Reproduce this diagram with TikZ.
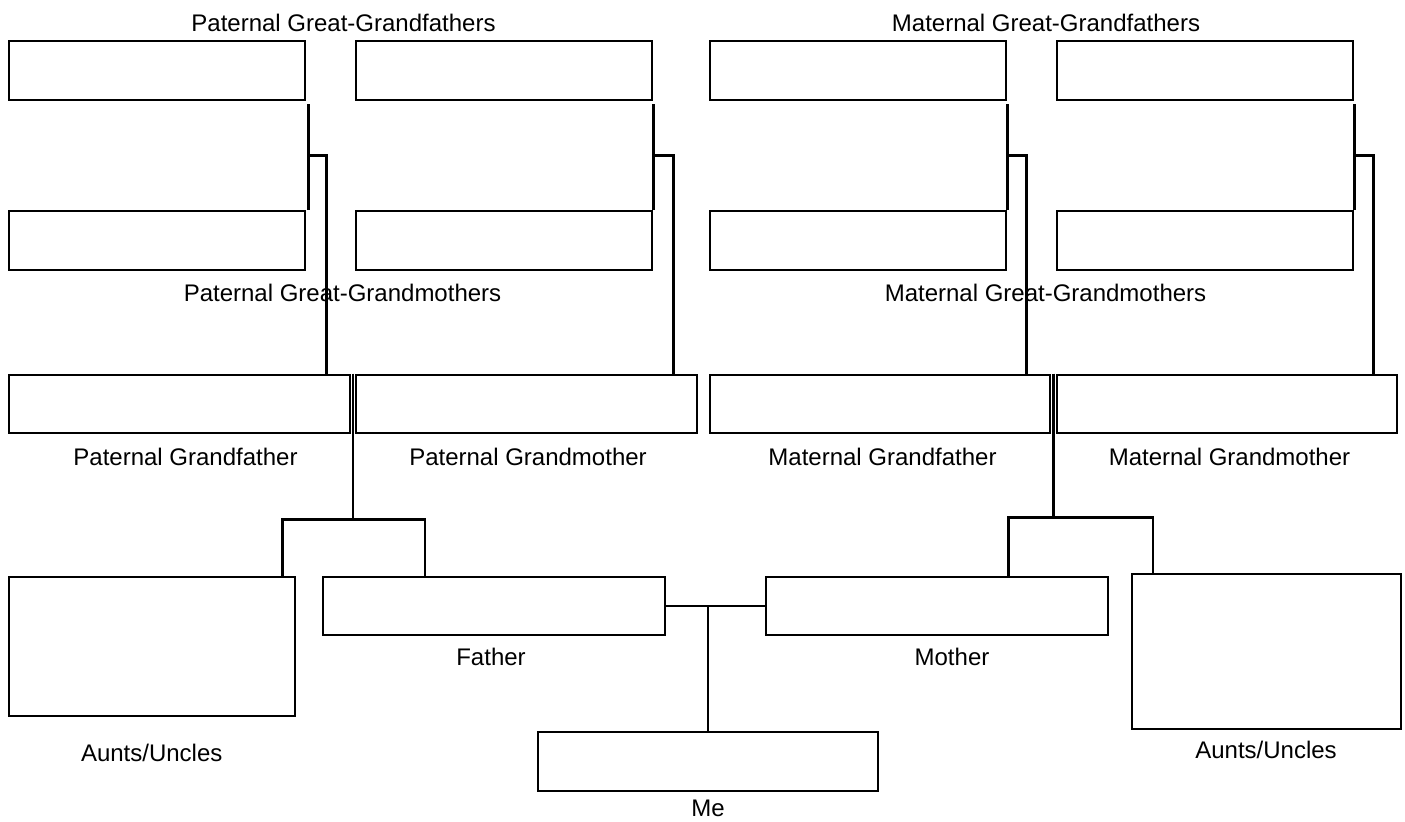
\documentclass[tikz,border=0pt]{standalone}
\usepackage{fontspec}
\setmainfont{Liberation Sans}
\usetikzlibrary{calc}

\begin{document}
\begin{tikzpicture}[x=0.5pt, y=-0.5pt, line width=1.25pt,
  cell/.style 2 args={draw, inner sep=0pt, minimum width=#1, minimum height=#2},
  lbl/.style={anchor=base, font=\large}]
\useasboundingbox (0,0) rectangle (1405,822);
  % great-grandparents
  \node[cell={148pt}{29.5pt}] (ggf1) at (157,70.5) {};
  \node[cell={148pt}{29.5pt}] (ggf2) at (504,70.5) {};
  \node[cell={148pt}{29.5pt}] (ggf3) at (858,70.5) {};
  \node[cell={148pt}{29.5pt}] (ggf4) at (1205,70.5) {};
  \node[cell={148pt}{29.5pt}] (ggm1) at (157,240.5) {};
  \node[cell={148pt}{29.5pt}] (ggm2) at (504,240.5) {};
  \node[cell={148pt}{29.5pt}] (ggm3) at (858,240.5) {};
  \node[cell={148pt}{29.5pt}] (ggm4) at (1205,240.5) {};
  % grandparents
  \node[cell={170.5pt}{29pt}] (pgf) at (179.5,404) {};
  \node[cell={170.5pt}{29pt}] (pgm) at (526.5,404) {};
  \node[cell={170pt}{29pt}] (mgf) at (880,404) {};
  \node[cell={170pt}{29pt}] (mgm) at (1227,404) {};
  % parents, aunts, me
  \node[cell={143pt}{69.5pt}] (auntp) at (152,646.5) {};
  \node[cell={171pt}{29pt}] (father) at (494,606) {};
  \node[cell={171pt}{29pt}] (mother) at (937,606) {};
  \node[cell={134.5pt}{77.5pt}] (auntm) at (1266.5,651.5) {};
  \node[cell={170pt}{29.5pt}] (me) at (708,761.5) {};

  \node[lbl] (t1) at (343.5,31.7) {Paternal Great-Grandfathers};
  \node[lbl] (t2) at (1046,31.7) {Maternal Great-Grandfathers};
  \node[lbl] (t3) at (342.5,302) {Paternal Great-Grandmothers};
  \node[lbl] (t4) at (1045.5,302) {Maternal Great-Grandmothers};
  \node[lbl] (l1) at (185.5,466) {Paternal Grandfather};
  \node[lbl] (l2) at (528,466) {Paternal Grandmother};
  \node[lbl] (l3) at (882.5,466) {Maternal Grandfather};
  \node[lbl] (l4) at (1229.5,466) {Maternal Grandmother};
  \node[lbl] (l5) at (491,666) {Father};
  \node[lbl] (l6) at (952,666) {Mother};
  \node[lbl] (l7) at (151.7,761.7) {Aunts/Uncles};
  \node[lbl] (l8) at (1266,759) {Aunts/Uncles};
  \node[lbl] (l9) at (708,817) {Me};

  \foreach \k/\g/\dx in {1/pgf/1pt, 2/pgm/0pt, 3/mgf/0pt, 4/mgm/0pt} {
    \coordinate (j\k) at ($(ggf\k.south east)!.5!(ggm\k.north east)$);
    \draw ([xshift=\dx,yshift=-1.5pt]ggf\k.south east) -- ([xshift=\dx]ggm\k.north east);
    \draw ([xshift=\dx]j\k) -| ([xshift=-12.5pt]\g.north east);
  }

  \coordinate (pj) at ($(pgf.north east)!.5!(pgm.north west)$);
  \coordinate (pk) at ($(pj)+(0,146)$);
  \draw (pj) -- (pk);
  \draw ([xshift=-7pt]auntp.north east) |- (pk) -| ([xshift=51.5pt]father.north west);

  \coordinate (mj) at ($(mgf.north east)!.5!(mgm.north west)$);
  \coordinate (mk) at ($(mj)+(0,144)$);
  \draw (mj) -- (mk);
  \draw ([xshift=-50.5pt]mother.north east) |- (mk) -| ([xshift=11pt]auntm.north west);

  \draw (father.east) -- (mother.west);
  \draw (me.north |- father.east) -- (me.north);
\end{tikzpicture}
\end{document}
